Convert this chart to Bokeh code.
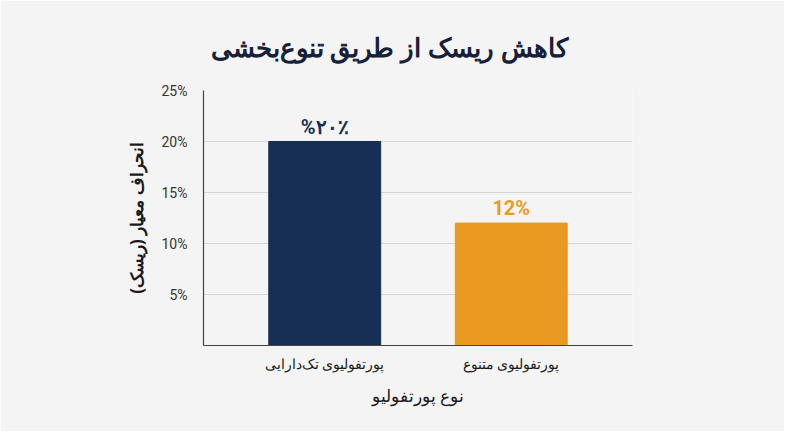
from bokeh.plotting import figure
from bokeh.models import Range1d, FactorRange, FixedTicker, PrintfTickFormatter, ColumnDataSource, LabelSet
from bokeh.core.properties import value
from bokeh.embed import file_html
from bokeh.resources import INLINE

categories = ["پورتفولیوی تک‌دارایی", "پورتفولیوی متنوع"]
values = [20, 12]
value_labels = ["%۲۰٪", "12%"]
colors = ["#172f55", "#e89b20"]
y_ticks = [5, 10, 15, 20, 25]

BG = "#f4f4f4"
src = ColumnDataSource(dict(x=categories, top=values, lab=value_labels, color=colors))

p = figure(width=784, height=431, output_backend="svg", toolbar_location=None,
           x_range=FactorRange(factors=categories, range_padding=0.15), y_range=Range1d(0, 25),
           min_border_left=203, min_border_right=152, min_border_top=90, min_border_bottom=86,
           background_fill_color=BG, border_fill_color=BG)
p.outline_line_color = None

p.vbar(x="x", top="top", width=0.6, bottom=0, color="color", source=src)
labels = LabelSet(x="x", y="top", text="lab", source=src, text_align="center", text_baseline="alphabetic",
                  y_offset=8, text_font=value("Roboto"), text_font_size="20px", text_font_style="bold",
                  text_color="color")
p.add_layout(labels)

p.title.text = "کاهش ریسک از طریق تنوع‌بخشی"
p.title.align = "left"
p.title.offset = 7
p.title.standoff = 52
p.title.text_font = "Noto Sans"
p.title.text_font_size = "26px"
p.title.text_font_style = "bold"
p.title.text_color = "#172038"

p.xgrid.visible = False
p.ygrid.ticker = FixedTicker(ticks=y_ticks)
p.ygrid.grid_line_color = "#d6d6d6"
p.ygrid.grid_line_width = 1

p.yaxis.ticker = FixedTicker(ticks=y_ticks)
p.yaxis.formatter = PrintfTickFormatter(format="%d%%")

for ax in (p.xaxis[0], p.yaxis[0]):
    ax.axis_line_color = "#444444"
    ax.axis_line_width = 1.2
    ax.major_tick_line_color = None
    ax.minor_tick_line_color = None
    ax.major_label_text_font = "Roboto"
    ax.major_label_text_color = "#333333"
    ax.axis_label_text_font = "Noto Sans"
    ax.axis_label_text_color = "#1a1a1a"

p.yaxis.major_label_text_font_size = "14px"
p.xaxis.major_label_text_font_size = "14px"
p.xaxis.major_label_text_color = "#1a1a1a"
p.xaxis.major_label_standoff = 4
p.yaxis.major_label_standoff = 10
p.xaxis.axis_label = "نوع پورتفولیو"
p.yaxis.axis_label = "انحراف معیار (ریسک)"
p.xaxis.axis_label_text_font_size = "17px"
p.xaxis.axis_label_text_font_style = "normal"
p.yaxis.axis_label_text_font_size = "17px"
p.yaxis.axis_label_text_font_style = "bold"
p.xaxis.axis_label_standoff = 9
p.yaxis.axis_label_standoff = 11

open("out.html", "w").write(file_html(p, INLINE))
